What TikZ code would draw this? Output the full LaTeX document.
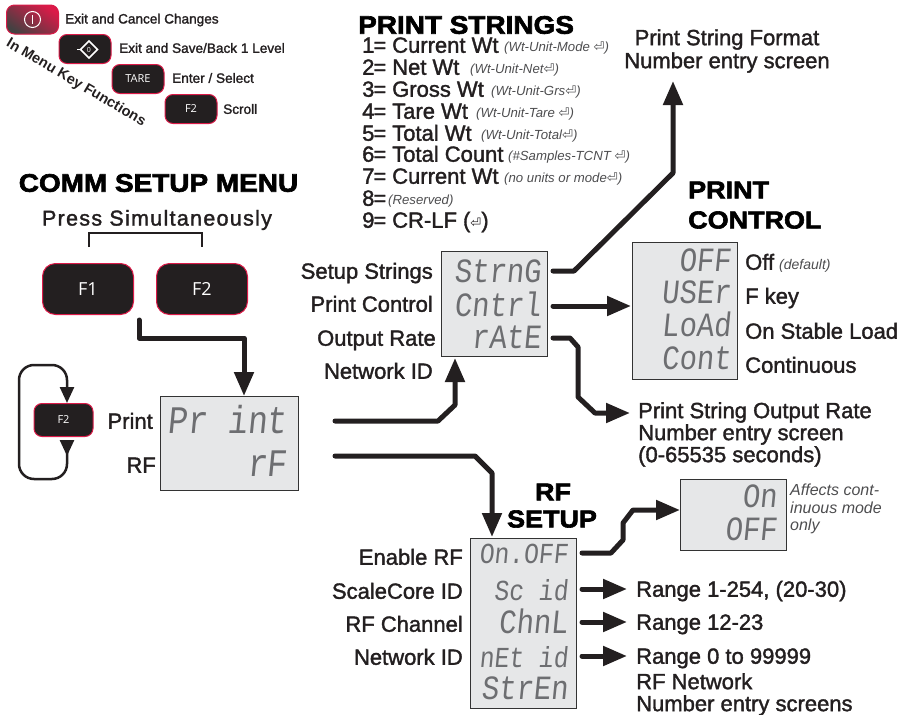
\documentclass[tikz,border=0pt]{standalone}
\usepackage{fontspec}
\setmainfont{Liberation Sans}
\newfontfamily\medfont[FakeBold=1.6]{Liberation Sans}
\newfontfamily\spacedfont[LetterSpace=6,FakeBold=1.6]{Liberation Sans}
\newfontfamily\heavyfont[FakeBold=2.5,FakeStretch=1.1]{Liberation Sans Bold}
\newfontfamily\keyfont{Open Sans}
\newfontfamily\lcdfont[FakeStretch=0.85,FakeSlant=0.1]{Liberation Mono}
\newfontfamily\symfont{DejaVu Sans}
\usetikzlibrary{arrows.meta}
\definecolor{keydark}{HTML}{231F20}
\definecolor{keyred}{HTML}{DB1A48}
\definecolor{lcdback}{HTML}{E6E7E8}
\definecolor{lcdtext}{HTML}{6D6E71}
\definecolor{notegray}{HTML}{4D4D4F}
\newcommand{\px}[1]{\fontsize{#1}{#1}\selectfont}
\newcommand{\ret}{{\symfont\char"23CE}}
\tikzset{
  keybox/.style={draw=keyred,line width=1pt,fill=keydark,rounded corners=8pt,text=white,
    font=\keyfont\px{11},inner sep=0pt,minimum width=52pt,minimum height=29pt},
  bigkey/.style={keybox,rounded corners=13pt,font=\keyfont\px{18},minimum width=91pt,minimum height=51pt},
  lcdbox/.style={draw=black!80,line width=1pt,fill=lcdback,inner sep=0pt},
  lcdrow/.style={text=lcdtext,font=\lcdfont\px{34},anchor=east,inner sep=0pt,text height=20pt,text depth=0pt},
  lcdbig/.style={lcdrow,font=\lcdfont\px{39}},
  lcdsmall/.style={lcdrow,font=\lcdfont\px{29}},
  lab/.style={text=keydark,font=\medfont\px{22},inner sep=0pt,text height=15.5pt,text depth=0pt},
  labl/.style={lab,anchor=west},
  labr/.style={lab,anchor=east},
  para/.style={text=keydark,font=\medfont\px{22},inner sep=0pt,align=left},
  keylab/.style={text=keydark,font=\medfont\px{13.6},inner sep=0pt,anchor=west},
  title/.style={text=black,font=\heavyfont\px{24.5},inner sep=0pt},
  bigtitle/.style={title,font=\heavyfont\px{25.4}},
  note/.style={text=notegray,font=\itshape\px{13.2},inner sep=0pt,anchor=west,text height=10pt,text depth=0pt},
  bignote/.style={note,font=\itshape\px{16}},
  bigarrow/.style={draw=keydark,line width=5pt,line cap=round,line join=round,
    -{Triangle[width=19pt,length=24pt]}},
  thinarrow/.style={draw=keydark,line width=2.5pt,-{Triangle[width=14pt,length=16pt]}}
}
\begin{document}
\begin{tikzpicture}[x=1pt,y=-1pt]
  \useasboundingbox (0,0) rectangle (903,715);
  % In menu keys
  \node[keybox,shade,left color=keyred,right color=keydark!85,shading angle=-35] (keyexit) at (32.5,19.5) {};
  \draw[white,line width=1pt] (keyexit) circle (8);
  \draw[white,line width=1pt] (32.5,15) -- (32.5,24);
  \node[keybox] (keysave) at (85,49) {};
  \draw[white,line width=1.6pt] (89,41) -- (97.5,49.5) -- (89,58) -- (80.5,49.5) -- cycle;
  \coordinate (savestub) at (77,49.5);
  \draw[white,line width=1pt] (savestub) -- (81,49.5);
  \node[text=white,font=\keyfont\px{7},inner sep=0pt] (keyzero) at (89,49.5) {0};
  \node[keybox] (keytare) at (138,79) {TARE};
  \node[keybox] (keyscroll) at (191,109) {F2};
  \node[keylab] (labexit) at (65,20) {Exit and Cancel Changes};
  \node[keylab] (labsave) at (119,48) {Exit and Save/Back 1 Level};
  \node[keylab] (labtare) at (172,78) {Enter / Select};
  \node[keylab] (labscroll) at (223,109) {Scroll};
  \node[text=keydark,font=\bfseries\px{14.5},rotate=-30.5,inner sep=0pt] (keytitle) at (76,83) {In Menu Key Functions};

  % Comm setup
  \node[bigtitle] (commtitle) at (158.5,183) {COMM SETUP MENU};
  \node[text=keydark,font=\spacedfont\px{21.5},inner sep=0pt] (press) at (157,220) {Press Simultaneously};
  \node[bigkey] (keyfone) at (88,289) {F1};
  \node[bigkey] (keyftwo) at (202,289) {F2};
  \coordinate (brackl) at (89,247);
  \coordinate (brackr) at (202,247);
  \draw[keydark,line width=1.5pt] (brackl) |- (145,233) -| (brackr);

  % Main display
  \node[lcdbox,minimum width=138pt,minimum height=94pt] (dispmain) at (229,443) {};
  \node[lcdbig] (rowprint) at (287,423) {Pr int};
  \node[lcdbig] (rowrf) at (287,466) {rF};
  \node[labr] (labprint) at (153,421) {Print};
  \node[labr] (labrf) at (156,465) {RF};
  \coordinate (foneout) at (139,320);
  \coordinate (maintop) at (244,396);
  \draw[bigarrow] (foneout) -- (139,338) -- (244,338) -- (maintop);

  % Scroll loop
  \node[keybox] (keyloop) at (63.5,420) [minimum width=59pt,minimum height=33pt] {F2};
  \coordinate (loopout) at (67,441);
  \coordinate (loopin) at (67,403);
  \draw[thinarrow,rounded corners=15pt] (67,450) -- (67,479) -- (19,479) -- (19,365) -- (67,365) -- (loopin);
  \draw[thinarrow] (loopout) -- (67,456);

  % Print strings
  \node[bigtitle,anchor=west] (stringtitle) at (358,25) {PRINT STRINGS};
  \foreach \rowy/\rownum/\rowname/\notex/\notetext in {
    45/1/Current Wt/504/{(Wt-Unit-Mode \ret)},
    67/2/Net Wt/470/{(Wt-Unit-Net\ret)},
    89/3/Gross Wt/491/{(Wt-Unit-Grs\ret)},
    111/4/Tare Wt/476/{(Wt-Unit-Tare \ret)},
    133/5/Total Wt/481/{(Wt-Unit-Total\ret)},
    154/6/Total Count/508/{(\#Samples-TCNT \ret)},
    176/7/Current Wt/504/{(no units or mode\ret)},
    198/8/{}/388/{(Reserved)}}{
    \node[labl] at (362,\rowy) {\rownum\kern-1pt=};
    \node[labl] at (392,\rowy) {\rowname};
    \node[note] at (\notex,\rowy+1) {\notetext};
  }
  \node[labl] (rowcrlf) at (362,220) {9\kern-1pt=};
  \node[labl] (rowcrlftext) at (392,220) {CR-LF ({\symfont\px{13}\char"23CE})};

  % Print output display
  \node[lcdbox,minimum width=106pt,minimum height=105pt] (dispstring) at (494,303.5) {};
  \node[lcdrow] (rowstrng) at (541,272) {StrnG};
  \node[lcdrow] (rowcntrl) at (541,306) {Cntrl};
  \node[lcdrow] (rowrate) at (541,338) {rAtE};
  \node[labr] (labstrng) at (433,271) {Setup Strings};
  \node[labr] (labcntrl) at (433,304) {Print Control};
  \node[labr] (labrate) at (436,338) {Output Rate};
  \node[labr] (labnet) at (433,371) {Network ID};
  \coordinate (printout) at (335,421);
  \coordinate (stringbot) at (455,358);
  \draw[bigarrow] (printout) -- (438,421) -- (455,405) -- (stringbot);
  \node[para,align=center,anchor=center] (formattext) at (727,51) {Print String Format\\[1pt]Number entry screen};
  \coordinate (strngout) at (553,271);
  \coordinate (formatbot) at (673,81);
  \draw[bigarrow] (strngout) -- (574,271) -- (673,173) -- (formatbot);
  \coordinate (cntrlout) at (553,306);
  \draw[bigarrow] (cntrlout) -- (631,306);
  \coordinate (rateout) at (553,338);
  \coordinate (ratetip) at (630,413);
  \draw[bigarrow] (rateout) -- (570,338) -- (578,347) -- (578,397) -- (595,413) -- (ratetip);
  \node[para,anchor=north west] (ratetext) at (638,402) {Print String Output Rate\\[0pt]Number entry screen\\[0pt](0-65535 seconds)};

  % Print control display
  \node[title,anchor=west] (controltop) at (688,190) {PRINT};
  \node[title,anchor=west] (controlbot) at (688,220) {CONTROL};
  \node[lcdbox,minimum width=105pt,minimum height=137pt] (dispcontrol) at (684.5,310.5) {};
  \node[lcdrow] (rowoff) at (731,261) {OFF};
  \node[lcdrow] (rowuser) at (731,293) {USEr};
  \node[lcdrow] (rowload) at (731,326) {LoAd};
  \node[lcdrow] (rowcont) at (731,359) {Cont};
  \node[labl] (laboff) at (745,262) {Off};
  \node[note,font=\itshape\px{14}] (labdefault) at (779,264) {(default)};
  \node[labl] (labuser) at (745,296) {F key};
  \node[labl] (labload) at (745,331) {On Stable Load};
  \node[labl] (labcont) at (745,365) {Continuous};

  % RF setup
  \node[title] (rftop) at (553,492) {RF};
  \node[title] (rfbot) at (552,519) {SETUP};
  \coordinate (rfout) at (335,456);
  \draw[bigarrow] (rfout) -- (475,456) -- (492,473) -- (492,537);
  \node[lcdbox,minimum width=106pt,minimum height=170pt] (disprf) at (523,623) {};
  \node[lcdsmall] (rowen) at (568,553) {On.OFF};
  \node[lcdsmall] (rowsc) at (568,590) {Sc id};
  \node[lcdrow] (rowch) at (568,623) {ChnL};
  \node[lcdsmall] (rownet) at (568,657) {nEt id};
  \node[lcdrow] (rowstr) at (568,689) {StrEn};
  \node[labr] (laben) at (463,557) {Enable RF};
  \node[labr] (labsc) at (463,591) {ScaleCore ID};
  \node[labr] (labch) at (463,624) {RF Channel};
  \node[labr] (labnw) at (463,657) {Network ID};
  \foreach \rowy/\rowname/\rowtext in {589/sc/Range 1-254{,} (20-30),622/ch/Range 12-23,656/nw/Range 0 to 99999}{
    \node[labl] (range\rowname) at (636,\rowy) {\rowtext};
    \coordinate (out\rowname) at (582,\rowy);
    \draw[bigarrow] (out\rowname) -- (627,\rowy);
  }
  \node[para,anchor=north west] (rfnote) at (636,673) {RF Network\\[0pt]Number entry screens};

  % On off display
  \node[lcdbox,minimum width=106pt,minimum height=71pt] (dispon) at (733,514.5) {};
  \node[lcdrow] (rowon) at (777,497) {On};
  \node[lcdrow] (rowonoff) at (777,530) {OFF};
  \coordinate (enout) at (582,553);
  \coordinate (ontip) at (680,510);
  \draw[bigarrow] (enout) -- (611,553) -- (623,540) -- (623,523) -- (633,510) -- (ontip);
  \node[bignote] (affectsa) at (790,490) {Affects cont-};
  \node[bignote] (affectsb) at (790,508) {inuous mode};
  \node[bignote] (affectsc) at (790,525) {only};
\end{tikzpicture}
\end{document}
